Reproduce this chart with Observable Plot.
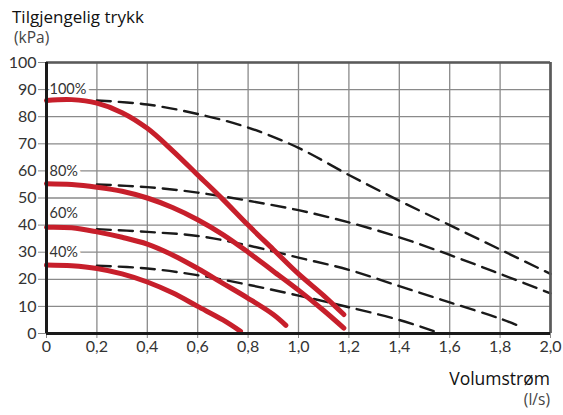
<!DOCTYPE html>
<html>
<head>
<meta charset="utf-8">
<script src="https://cdn.jsdelivr.net/npm/d3@7"></script>
<script src="https://cdn.jsdelivr.net/npm/@observablehq/plot@0.6"></script>
<style>
  html, body { margin: 0; padding: 0; background: #fff; }
  #chart { position: relative; width: 563px; height: 415px; }
  svg { display: block; }
</style>
</head>
<body>
<div id="chart"></div>
<script>
// ---- Tick labels ----
const xTicks = [0, 0.2, 0.4, 0.6, 0.8, 1.0, 1.2, 1.4, 1.6, 1.8, 2.0];
const xTickLabels = ["0", "0,2", "0,4", "0,6", "0,8", "1,0", "1,2", "1,4", "1,6", "1,8", "2,0"];
const yTicks = [0, 10, 20, 30, 40, 50, 60, 70, 80, 90, 100];

// ---- Pump curves (red, solid) ----
const pumpX100 = [0, 0.1, 0.2, 0.3, 0.4, 0.5, 0.6, 0.7, 0.8, 0.9, 1.0, 1.1, 1.18];
const pumpY100 = [86, 86.3, 85, 81.5, 75.7, 67.5, 58.5, 49.5, 40, 31, 22, 14, 7];
const pumpX80 = [0, 0.1, 0.2, 0.3, 0.4, 0.5, 0.6, 0.7, 0.8, 0.9, 1.0, 1.1, 1.18];
const pumpY80 = [55.3, 55, 54, 52.5, 50, 46.5, 42, 36.5, 30, 23, 16, 8.5, 2];
const pumpX60 = [0, 0.1, 0.2, 0.3, 0.4, 0.5, 0.6, 0.7, 0.8, 0.9, 0.95];
const pumpY60 = [39.2, 39, 37.5, 35.5, 33, 29, 24, 18.5, 13, 7, 3];
const pumpX40 = [0, 0.1, 0.2, 0.3, 0.4, 0.5, 0.6, 0.7, 0.77];
const pumpY40 = [25.3, 25, 24, 22, 19, 15, 10, 5, 0.8];

// ---- Available pressure curves (black, dashed) ----
const availX100 = [0.2, 0.4, 0.6, 0.8, 1.0, 1.2, 1.4, 1.6, 1.8, 2.0];
const availY100 = [86, 84.5, 81, 76, 68.5, 58.5, 49, 40, 31, 22];
const availX80 = [0.2, 0.4, 0.6, 0.8, 1.0, 1.2, 1.4, 1.6, 1.8, 2.0];
const availY80 = [55, 54, 52, 49, 45.5, 41, 35.5, 29, 22, 14.8];
const availX60 = [0.2, 0.4, 0.6, 0.8, 1.0, 1.2, 1.4, 1.6, 1.8, 1.89];
const availY60 = [38.5, 37.5, 36, 32.5, 28, 23.5, 17.5, 11.5, 5.5, 2.2];
const availX40 = [0.2, 0.4, 0.6, 0.8, 1.0, 1.2, 1.4, 1.54];
const availY40 = [25, 24, 21.5, 18, 14, 9.7, 5, 0.8];

// ---- Speed labels ----
const speedLabels = ["100%", "80%", "60%", "40%"];
const speedLabelY = [90, 60, 44.5, 30];

// ---- Texts ----
const yTitle = "Tilgjengelig trykk";
const yUnit = "(kPa)";
const xTitle = "Volumstrøm";
const xUnit = "(l/s)";

const zipRows = (series, xs, ys) => xs.map((x, i) => ({series, x, y: ys[i]}));
const pumpRows = [
  ...zipRows("100%", pumpX100, pumpY100),
  ...zipRows("80%", pumpX80, pumpY80),
  ...zipRows("60%", pumpX60, pumpY60),
  ...zipRows("40%", pumpX40, pumpY40)
];
const availRows = [
  ...zipRows("100%", availX100, availY100),
  ...zipRows("80%", availX80, availY80),
  ...zipRows("60%", availX60, availY60),
  ...zipRows("40%", availX40, availY40)
];
const labelRows = speedLabels.map((t, i) => ({t, y: speedLabelY[i]}));

const FONT = "Lato, 'Noto Sans', sans-serif";
const TFONT = "'Open Sans', 'Noto Sans', sans-serif";
const RED = "#c71f2b";

const plot = Plot.plot({
  width: 563,
  height: 415,
  marginLeft: 46,
  marginRight: 13,
  marginTop: 62,
  marginBottom: 82,
  style: {fontFamily: FONT, background: "#fff", overflow: "visible"},
  x: {domain: [0, 2]},
  y: {domain: [0, 100]},
  marks: [
    Plot.gridX(xTicks, {stroke: "#8a8a8a", strokeOpacity: 1, strokeWidth: 1.3}),
    Plot.gridY(yTicks, {stroke: "#8a8a8a", strokeOpacity: 1, strokeWidth: 1.3}),
    Plot.text(labelRows, {
      x: 0, y: "y", text: "t", dx: 3, textAnchor: "start",
      fill: "#333", stroke: "white", strokeWidth: 7, paintOrder: "stroke",
      fontSize: 14.5, fontFamily: FONT
    }),
    Plot.line(availRows, {
      x: "x", y: "y", z: "series", stroke: "#1a1a1a", strokeWidth: 2.4,
      strokeDasharray: "14,8", curve: "catmull-rom"
    }),
    Plot.line(pumpRows, {
      x: "x", y: "y", z: "series", stroke: RED, strokeWidth: 5,
      strokeLinecap: "round", curve: "catmull-rom"
    }),
    Plot.ruleY([100], {stroke: "#5a5a5a", strokeWidth: 2.5}),
    Plot.ruleX([2], {stroke: "#5a5a5a", strokeWidth: 2.7}),
    Plot.axisY(yTicks, {
      tickSize: 8, tickPadding: 2, stroke: "#888", fill: "#333",
      fontSize: 16, label: null
    }),
    Plot.axisX(xTicks, {
      tickSize: 5, tickPadding: 2, stroke: "#888", fill: "#333",
      fontSize: 16, label: null,
      tickFormat: (d) => xTickLabels[xTicks.indexOf(d)]
    }),
    Plot.ruleX([0], {stroke: "#1a1a1a", strokeWidth: 3}),
    Plot.ruleY([0], {stroke: "#1a1a1a", strokeWidth: 3})
  ]
});

const svg = d3.select(plot);
svg.append("text").attr("x", 12).attr("y", 23).attr("text-anchor", "start")
  .attr("font-size", 17).attr("font-family", TFONT).attr("fill", "#111")
  .text(yTitle);
svg.append("text").attr("x", 14).attr("y", 43).attr("text-anchor", "start")
  .attr("font-size", 15.5).attr("font-family", TFONT).attr("fill", "#444")
  .text(yUnit);
svg.append("text").attr("x", 550).attr("y", 385).attr("text-anchor", "end")
  .attr("font-size", 17.5).attr("font-weight", 500).attr("font-family", TFONT).attr("fill", "#111")
  .text(xTitle);
svg.append("text").attr("x", 550).attr("y", 405).attr("text-anchor", "end")
  .attr("font-size", 15.5).attr("font-family", TFONT).attr("fill", "#444")
  .text(xUnit);

document.getElementById("chart").appendChild(plot);
</script>
</body>
</html>
